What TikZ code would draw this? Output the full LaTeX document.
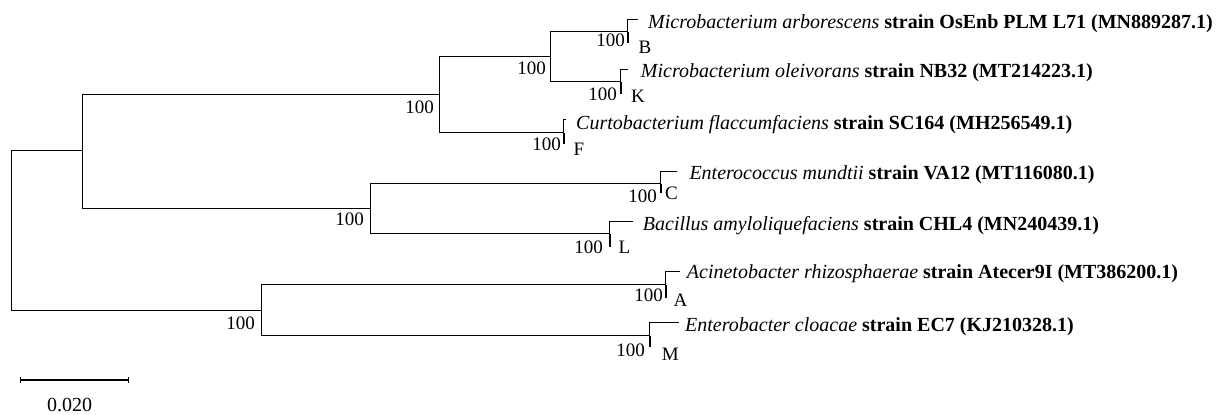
\documentclass[tikz,border=0pt]{standalone}
\usepackage{fontspec}
\setmainfont{Liberation Serif}
\usetikzlibrary{calc}
\begin{document}
\begin{tikzpicture}[x=1pt,y=-1pt,
  br/.style={line width=1.5pt},
  zb/.style={line width=2.2pt},
  txt/.style={inner sep=0pt,font=\fontsize{19}{21}\selectfont},
  bs/.style={txt,anchor=base east},
  lf/.style={txt,anchor=base west},
  nm/.style={inner sep=0pt,anchor=base west,font=\fontsize{20}{22}\selectfont}]
\useasboundingbox (0,0) rectangle (1232,415);
% internal nodes
\coordinate (root) at (11.5,230.5);
\coordinate (n1) at (82.5,150.5);
\coordinate (n2) at (439.5,94.5);
\coordinate (n3) at (550.5,56.5);
\coordinate (n4) at (370.5,208.5);
\coordinate (n5) at (261.5,310.5);
% leaf pair nodes (p = pair node, t = reference-strain tip, b = isolate tip)
\coordinate (pB) at (627.5,31.5);  \coordinate (tB) at (637.5,19.5);  \coordinate (bB) at (628,42.7);
\coordinate (pK) at (620.5,81.5);  \coordinate (tK) at (627.5,69.5);  \coordinate (bK) at (621,94.3);
\coordinate (pF) at (563.5,132.5); \coordinate (tF) at (566,119.5);   \coordinate (bF) at (564,144.3);
\coordinate (pC) at (660.5,183.5); \coordinate (tC) at (677,171.5);   \coordinate (bC) at (661,193.3);
\coordinate (pL) at (609.5,233.5); \coordinate (tL) at (632.5,221.5); \coordinate (bL) at (610,246.7);
\coordinate (pA) at (665.5,284.5); \coordinate (tA) at (680,271.5);   \coordinate (bA) at (666,298.3);
\coordinate (pM) at (649.5,335.5); \coordinate (tM) at (678.5,322.5); \coordinate (bM) at (650,346.7);
% branches
\draw[br] (root) |- (n1);
\draw[br] (root) |- (n5);
\draw[br] (n1) |- (n2);
\draw[br] (n1) |- (n4);
\draw[br] (n2) |- (n3);
\draw[br] (n2) |- (pF);
\draw[br] (n3) |- (pB);
\draw[br] (n3) |- (pK);
\draw[br] (n4) |- (pC);
\draw[br] (n4) |- (pL);
\draw[br] (n5) |- (pA);
\draw[br] (n5) |- (pM);
\foreach \p in {B,K,F,C,L,A,M}{
  \draw[br] (p\p) |- (t\p);
  \draw[zb] (p\p -| b\p) -- (b\p);
}
% bootstrap values
\node[bs] (s2) at (434,113) {100};
\node[bs] (s3) at (546,74.3) {100};
\node[bs] (s4) at (364,225.3) {100};
\node[bs] (s5) at (255,329) {100};
\node[bs] (sB) at (625,46) {100};
\node[bs] (sK) at (617,100) {100};
\node[bs] (sF) at (561,150) {100};
\node[bs] (sC) at (657,202.5) {100};
\node[bs] (sL) at (603,253) {100};
\node[bs] (sA) at (663,301.3) {100};
\node[bs] (sM) at (645,356.3) {100};
% isolate letters
\node[lf] (lB) at (638.3,53.8) {B};
\node[lf] (lK) at (631,102) {K};
\node[lf] (lF) at (573.3,155.3) {F};
\node[lf] (lC) at (665,199.3) {C};
\node[lf] (lL) at (618.3,253.3) {L};
\node[lf] (lA) at (673.3,306) {A};
\node[lf] (lM) at (661.7,360.8) {M};
% names
\node[nm] (mB) at (648,28.4) {\textit{Microbacterium arborescens} \textbf{strain OsEnb PLM L71 (MN889287.1)}};
\node[nm] (mK) at (640.7,77.7) {\textit{Microbacterium oleivorans} \textbf{strain NB32 (MT214223.1)}};
\node[nm] (mF) at (576,129.7) {\textit{Curtobacterium flaccumfaciens} \textbf{strain SC164 (MH256549.1)}};
\node[nm] (mC) at (689.3,179.2) {\textit{Enterococcus mundtii} \textbf{strain VA12 (MT116080.1)}};
\node[nm] (mL) at (642.7,230) {\textit{Bacillus amyloliquefaciens} \textbf{strain CHL4 (MN240439.1)}};
\node[nm] (mA) at (686.7,278.4) {\textit{Acinetobacter rhizosphaerae} \textbf{strain Atecer9I (MT386200.1)}};
\node[nm] (mM) at (685,331.7) {\textit{Enterobacter cloacae} \textbf{strain EC7 (KJ210328.1)}};
% scale bar
\coordinate (sb1) at (20.7,380);
\coordinate (sb2) at (128.3,380);
\draw[line width=2pt] (sb1) -- (sb2);
\draw[line width=1.5pt] ($(sb1)+(0,-3)$) -- ($(sb1)+(0,3)$);
\draw[line width=1.5pt] ($(sb2)+(0,-3)$) -- ($(sb2)+(0,3)$);
\node[nm,anchor=base] (sbl) at (69.5,411.5) {0.020};
\end{tikzpicture}
\end{document}
